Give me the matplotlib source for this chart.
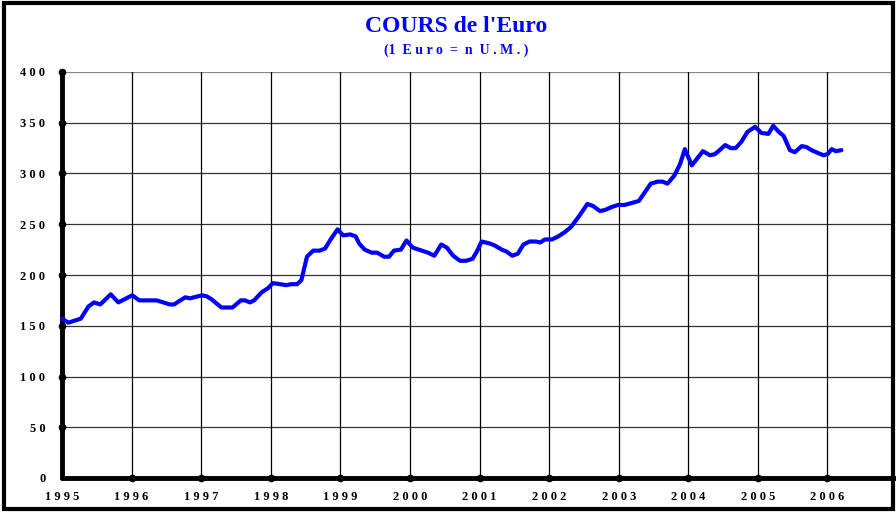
import matplotlib
matplotlib.use("Agg")
import matplotlib.pyplot as plt
from matplotlib.patches import Rectangle

# Decimal-year positions and values
years = [1995.00, 1995.09, 1995.27, 1995.38, 1995.46, 1995.55, 1995.70, 1995.81,
         1996.01, 1996.11, 1996.36, 1996.55, 1996.61, 1996.77, 1996.84,
         1997.01, 1997.08, 1997.15, 1997.29, 1997.45, 1997.57, 1997.63, 1997.70,
         1997.76, 1997.87, 1997.96,
         1998.03, 1998.13, 1998.22, 1998.30, 1998.38, 1998.44, 1998.52, 1998.61,
         1998.70, 1998.78, 1998.86, 1998.96,
         1999.04, 1999.14, 1999.22, 1999.27, 1999.35, 1999.45, 1999.53, 1999.63,
         1999.70, 1999.77, 1999.87, 1999.95,
         2000.04, 2000.17, 2000.26, 2000.35, 2000.45, 2000.53, 2000.62, 2000.72,
         2000.81, 2000.90, 2000.96,
         2001.03, 2001.15, 2001.22, 2001.32, 2001.39, 2001.47, 2001.55, 2001.63,
         2001.72, 2001.81, 2001.87, 2001.94,
         2002.04, 2002.13, 2002.22, 2002.31, 2002.42, 2002.55, 2002.63, 2002.73,
         2002.80, 2002.90, 2002.99,
         2003.08, 2003.19, 2003.29, 2003.38, 2003.46, 2003.56, 2003.63, 2003.70,
         2003.80, 2003.88, 2003.95,
         2004.05, 2004.13, 2004.21, 2004.31, 2004.38, 2004.45, 2004.53, 2004.61,
         2004.68, 2004.76, 2004.85, 2004.96,
         2005.05, 2005.15, 2005.22, 2005.30, 2005.37, 2005.46, 2005.53, 2005.63,
         2005.70, 2005.77, 2005.87, 2005.94,
         2006.00, 2006.06, 2006.12, 2006.20]
values = [157, 153, 157, 169, 173, 171, 181, 173,
          180, 175, 175, 171, 171, 178, 177,
          180, 179, 176, 168, 168, 175, 175, 173,
          175, 183, 187,
          192, 191, 190, 191, 191, 195, 218, 224,
          224, 226, 235, 245,
          239, 240, 238, 231, 225, 222, 222, 218,
          218, 224, 225, 234,
          227, 224, 222, 219, 230, 227, 219, 214,
          214, 216, 223,
          233, 231, 229, 225, 223, 219, 221, 230,
          233, 233, 232, 235,
          235, 238, 242, 247, 257, 270, 268, 263,
          264, 267, 269,
          269, 271, 273, 282, 290, 292, 292, 290,
          298, 309, 324,
          308, 315, 322, 318, 319, 323, 328, 325,
          325, 331, 341, 346,
          340, 339, 347, 341, 337, 323, 321, 327,
          326, 323, 320, 318,
          319, 324, 322, 323]

year_ticks = list(range(1995, 2007))
year_labels = [str(y) for y in year_ticks]
y_ticks = list(range(0, 401, 50))
y_labels = [str(v) for v in y_ticks]

title = "COURS de l'Euro"
subtitle = "(1 Euro = n U.M.)"

def spaced(s):
    return " ".join(list(s))

def spaced_words(s):
    return "  ".join(" ".join(list(w)) for w in s.split(" "))

serif = ["Liberation Serif", "DejaVu Serif"]

fig = plt.figure(figsize=(8.96, 5.12), dpi=100)
ax = fig.add_axes([62/896, 1-478/512, (895-62)/896, (478-72)/512])

ax.plot(years, values, color="#0000FF", lw=3.0, solid_joinstyle="round",
        solid_capstyle="round", zorder=5, clip_on=False)

ax.set_xlim(1995, 2006.97)
ax.set_ylim(0, 400)
ax.set_xticks(year_ticks)
ax.set_yticks(y_ticks)
ax.set_xticklabels([spaced(s) for s in year_labels], fontfamily=serif,
                   fontweight="bold", fontsize=9)
ax.set_yticklabels([spaced(s) for s in y_labels], fontfamily=serif,
                   fontweight="bold", fontsize=9)
ax.tick_params(axis="both", length=0)
ax.tick_params(axis="x", pad=9)
ax.tick_params(axis="y", pad=12)

for y in y_ticks[1:]:
    ax.axhline(y, color="#333333" if y < 400 else "#888888", lw=0.9, zorder=1)
for x in year_ticks[1:]:
    ax.axvline(x, color="black", lw=0.9, zorder=1)

for s in ["top", "right"]:
    ax.spines[s].set_visible(False)
ax.spines["left"].set_linewidth(3.5)
ax.spines["bottom"].set_linewidth(3.5)
ax.spines["left"].set_capstyle("round")
ax.spines["bottom"].set_capstyle("round")

# dots at tick positions
ax.scatter([year_ticks[0]] * len(y_ticks[1:]), y_ticks[1:], s=20, color="black",
           zorder=6, clip_on=False)
ax.scatter(year_ticks[1:], [0] * len(year_ticks[1:]), s=20, color="black",
           zorder=6, clip_on=False)

fig.text(456/896, 1-26/512, title, ha="center", va="center", color="#0000FF",
         fontfamily=serif, fontweight="bold", fontsize=17)
fig.text(456/896, 1-50/512, spaced_words(subtitle).replace("( 1", "(1"),
         ha="center", va="center", color="#0000FF",
         fontfamily=serif, fontweight="bold", fontsize=10)

fig.patches.append(Rectangle((0.004, 0.006), 0.993, 0.988, transform=fig.transFigure,
                             fill=False, edgecolor="black", lw=3))

fig.savefig("out.png", dpi=100)
